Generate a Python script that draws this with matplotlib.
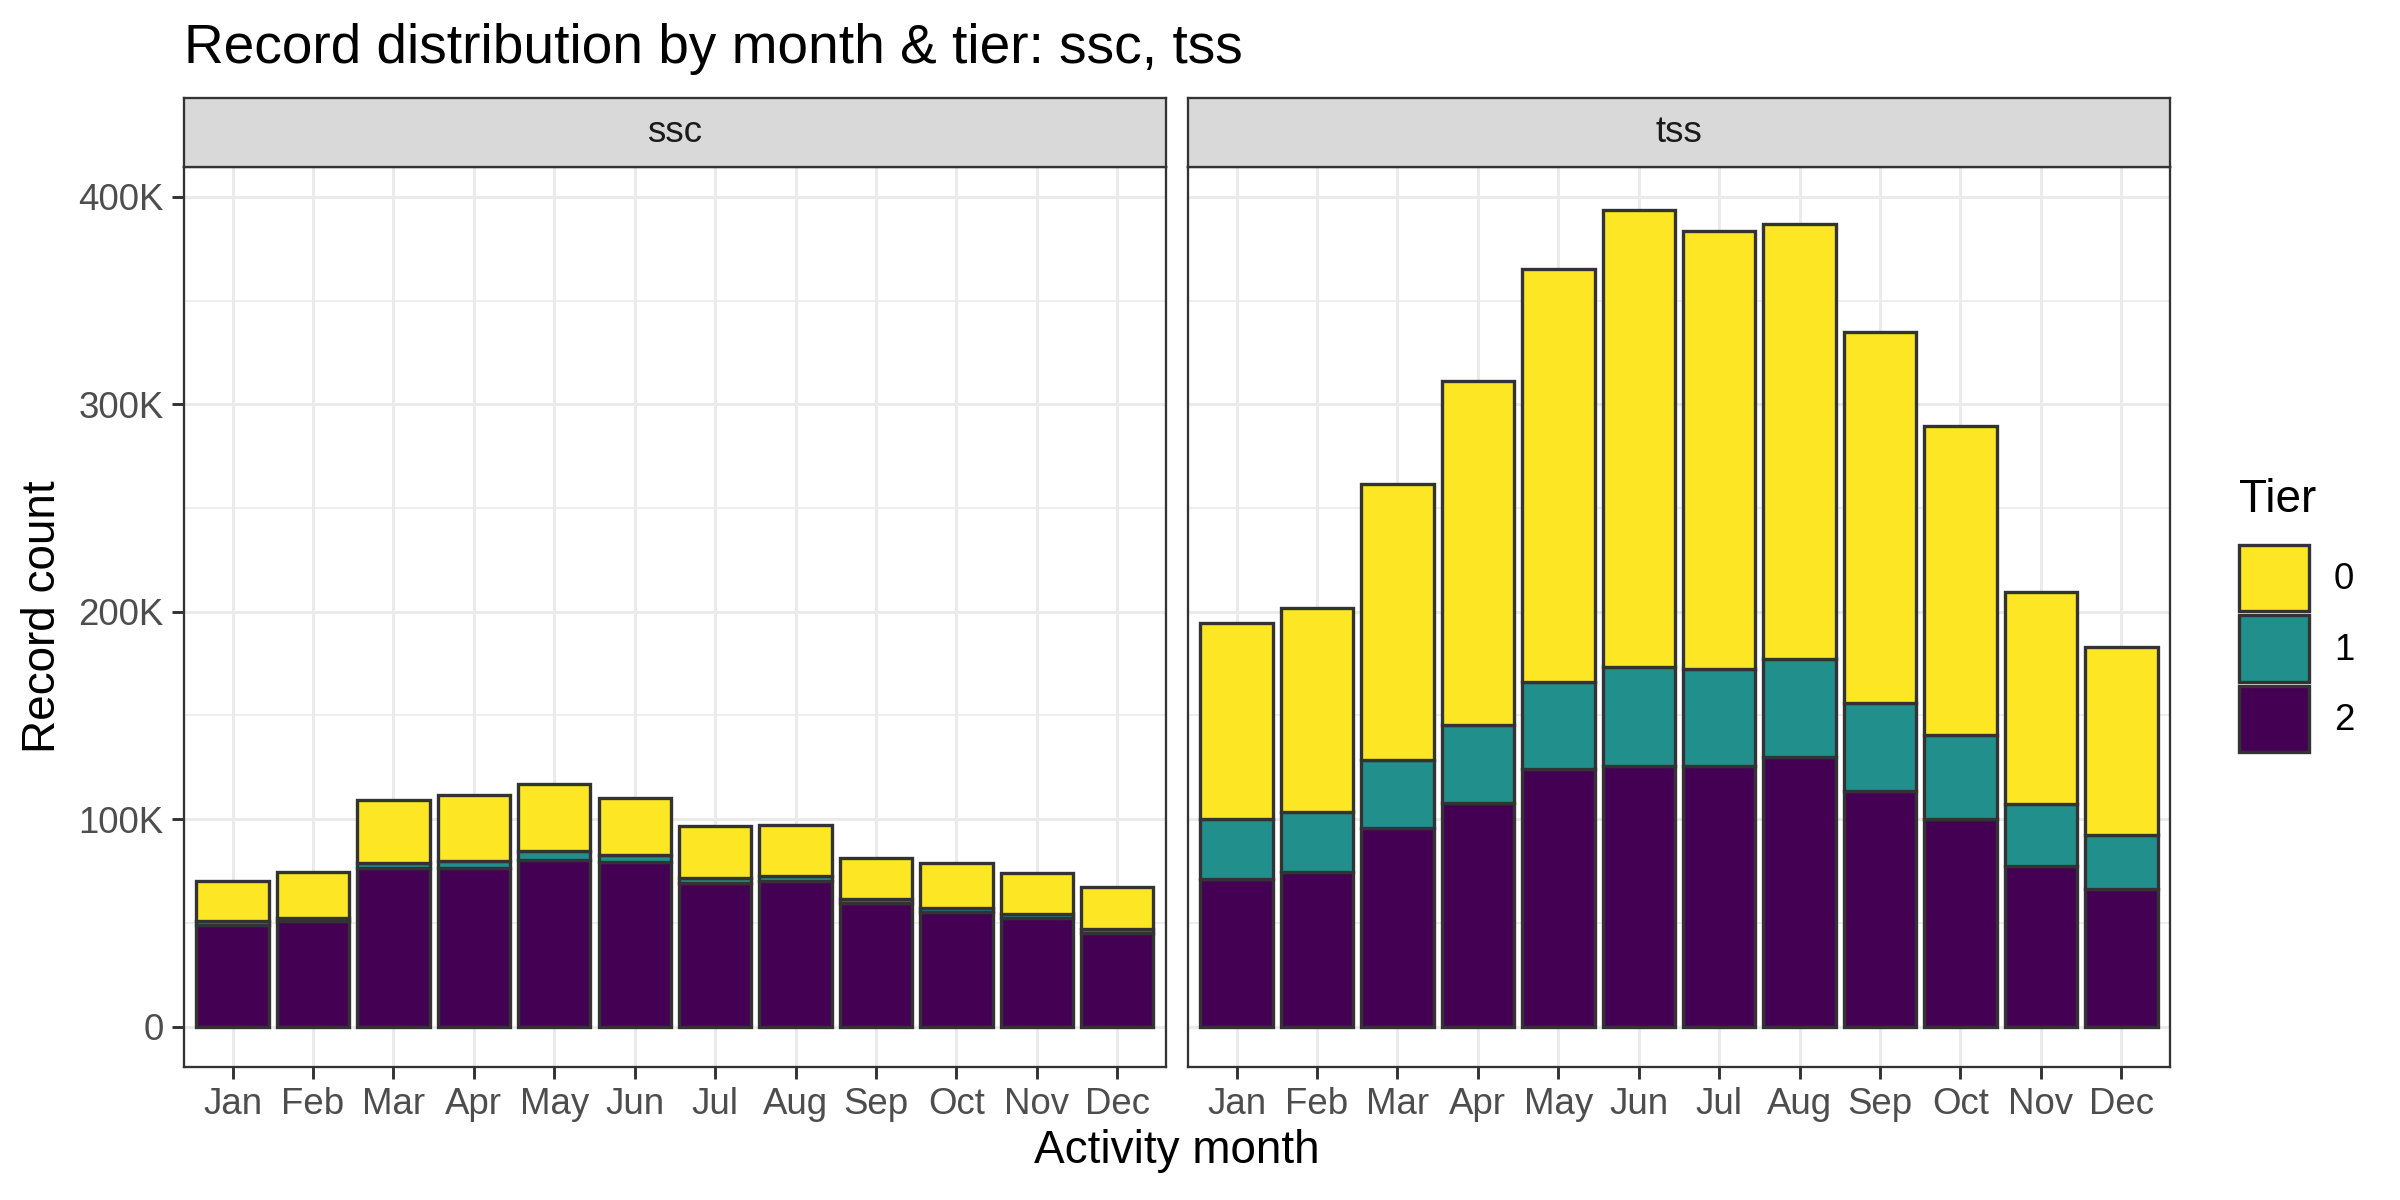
import numpy as np
import matplotlib
matplotlib.use("Agg")
import matplotlib.pyplot as plt
from matplotlib.patches import Patch
from matplotlib.ticker import FuncFormatter, MultipleLocator

plt.rcParams['font.family'] = ['Liberation Sans', 'DejaVu Sans']

months = ['Jan', 'Feb', 'Mar', 'Apr', 'May', 'Jun', 'Jul', 'Aug', 'Sep', 'Oct', 'Nov', 'Dec']
tiers = ['0', '1', '2']
tier_colors = {'0': '#FDE725', '1': '#21908C', '2': '#440154'}

# values in thousands of records
ssc_tier2 = [49, 51, 76.5, 76.5, 80.5, 79.5, 69, 70, 59.5, 55, 52.5, 45]
ssc_tier1 = [2, 1.5, 2.5, 3.5, 4, 3, 2.5, 2.5, 2, 2, 1.8, 1.8]
ssc_tier0 = [19, 22, 30.4, 31.5, 32.5, 27.8, 25.3, 24.6, 19.9, 22, 19.7, 20.5]

tss_tier2 = [71, 74.5, 95.5, 108, 124, 125.5, 125.5, 130, 113.5, 100, 77.5, 66.5]
tss_tier1 = [29, 29, 33, 37.6, 42, 48, 47, 47, 42.5, 40.5, 30, 25.7]
tss_tier0 = [94.5, 98.3, 133.3, 165.6, 199, 220.4, 211, 210, 179, 149, 102, 91]

panels = {
    'ssc': {'2': ssc_tier2, '1': ssc_tier1, '0': ssc_tier0},
    'tss': {'2': tss_tier2, '1': tss_tier1, '0': tss_tier0},
}

base_size = 22
fig = plt.figure(figsize=(16, 8), dpi=150)
left, right_ = 0.0768, 0.904
gap = 0.0095
pw = (right_ - left - gap) / 2
bottom, top = 0.111, 0.861
strip_h = 0.918 - top

x = np.arange(1, 13)
for i, (name, data) in enumerate(panels.items()):
    x0 = left + i * (pw + gap)
    ax = fig.add_axes([x0, bottom, pw, top - bottom])
    stack = np.zeros(12)
    for t in ['2', '1', '0']:
        vals = np.array(data[t]) * 1000
        ax.bar(x, vals, width=0.9, bottom=stack, color=tier_colors[t],
               edgecolor='#333333', linewidth=1.6, zorder=3)
        stack += vals
    ax.set_xlim(0.4, 12.6)
    ax.set_ylim(-19400, 414500)
    ax.yaxis.set_major_locator(MultipleLocator(100000))
    ax.yaxis.set_minor_locator(MultipleLocator(50000))
    ax.set_xticks(x)
    ax.set_xticklabels(months)
    ax.grid(which='major', color='#EBEBEB', linewidth=1.4, zorder=0)
    ax.grid(which='minor', axis='y', color='#EBEBEB', linewidth=0.8, zorder=0)
    ax.set_axisbelow(True)
    ax.tick_params(axis='both', which='major', length=5.9, width=1.4, color='#333333',
                   labelsize=base_size * 0.8, labelcolor='#4D4D4D', pad=4)
    ax.tick_params(axis='y', which='minor', length=0)
    for s in ax.spines.values():
        s.set_color('#333333')
        s.set_linewidth(1.1)
    if i == 0:
        ax.yaxis.set_major_formatter(FuncFormatter(
            lambda v, p: '0' if v == 0 else '{:d}K'.format(int(round(v / 1000)))))
    else:
        ax.tick_params(axis='y', which='both', left=False, labelleft=False)
    # facet strip
    sax = fig.add_axes([x0, top, pw, strip_h])
    sax.set_facecolor('#D9D9D9')
    sax.set_xticks([])
    sax.set_yticks([])
    for s in sax.spines.values():
        s.set_color('#333333')
        s.set_linewidth(1.1)
    sax.text(0.5, 0.5, name, ha='center', va='center', fontsize=base_size * 0.8,
             color='#1A1A1A', transform=sax.transAxes)

fig.text(left, 0.9475, 'Record distribution by month & tier: ssc, tss',
         fontsize=base_size * 1.2, ha='left', va='baseline', color='black')
fig.text((left + right_) / 2, 0.041, 'Activity month', fontsize=base_size,
         ha='center', va='center')
fig.text(0.018, (bottom + top) / 2, 'Record count', fontsize=base_size,
         ha='center', va='center', rotation=90)

# legend: title drawn separately so the gap to the keys matches
fig.text(0.933, 0.583, 'Tier', fontsize=base_size, ha='left', va='center')
handles = [Patch(facecolor=tier_colors[t], edgecolor='#333333', linewidth=1.6)
           for t in tiers]
leg = fig.legend(handles, tiers, loc='upper left', bbox_to_anchor=(0.933, 0.546),
                 frameon=False, fontsize=base_size * 0.8,
                 handlelength=1.9, handleheight=2.4,
                 labelspacing=0.12, handletextpad=0.68, borderpad=0,
                 borderaxespad=0)

fig.savefig('out.png', dpi=150)
